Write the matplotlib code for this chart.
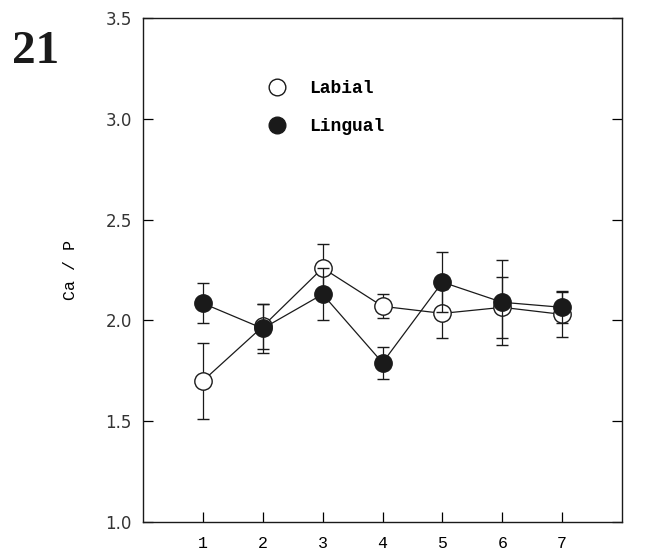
import numpy as np
import matplotlib
matplotlib.use("Agg")
import matplotlib.pyplot as plt
from matplotlib.lines import Line2D

# ── Data ─────────────────────────────────────────────────────────
positions = [1, 2, 3, 4, 5, 6, 7]
labial = [1.70, 1.97, 2.26, 2.07, 2.035, 2.065, 2.03]
labial_err = [0.19, 0.11, 0.12, 0.06, 0.12, 0.15, 0.11]
lingual = [2.085, 1.96, 2.13, 1.79, 2.19, 2.09, 2.065]
lingual_err = [0.10, 0.12, 0.13, 0.08, 0.15, 0.21, 0.08]
yticks = [1.0, 1.5, 2.0, 2.5, 3.0, 3.5]

INK = "#1a1a1a"
MONO = "Liberation Mono"

fig = plt.figure(figsize=(6.5, 5.5), dpi=100)
fig.patch.set_facecolor("white")
ax = fig.add_axes([0.22, 0.051, 0.737, 0.916])

common = dict(color=INK, lw=0.9, elinewidth=0.9, capsize=4, capthick=1.0,
              marker="o", ms=12.5, mec=INK, mew=1.0)
ax.errorbar(positions, labial, yerr=labial_err, mfc="white", zorder=3, **common)
ax.errorbar(positions, lingual, yerr=lingual_err, mfc=INK, zorder=4, **common)

ax.set_xlim(0, 8)
ax.set_ylim(1.0, 3.5)
ax.set_xticks(positions)
ax.set_xticklabels([str(p) for p in positions], family=MONO, fontsize=12)
ax.set_yticks(yticks)
ax.set_yticklabels([f"{v:.1f}" for v in yticks], fontsize=12, color="#333333")
ax.tick_params(axis="y", direction="in", length=7, width=0.9, right=True, pad=8)
ax.tick_params(axis="x", direction="in", length=7, width=0.9, pad=10)
for sp in ax.spines.values():
    sp.set_linewidth(1.0)
    sp.set_color(INK)

ax.set_ylabel("Ca / P", family=MONO, fontsize=12, labelpad=20)

handles = [
    Line2D([], [], ls="none", marker="o", ms=12, mfc="white", mec=INK, mew=1.0),
    Line2D([], [], ls="none", marker="o", ms=12, mfc=INK, mec=INK, mew=1.0),
]
ax.legend(handles, ["Labial", "Lingual"], loc="upper left",
          bbox_to_anchor=(0.23, 0.895), frameon=False, handletextpad=1.0,
          handlelength=1.6, borderpad=0, labelspacing=1.15,
          prop={"family": MONO, "size": 13, "weight": "bold"})

fig.text(0.018, 0.905, "21", family="Liberation Serif", fontweight="bold",
         fontsize=34, color=INK, va="center", ha="left")

fig.savefig("out.png", dpi=100, facecolor="white")
